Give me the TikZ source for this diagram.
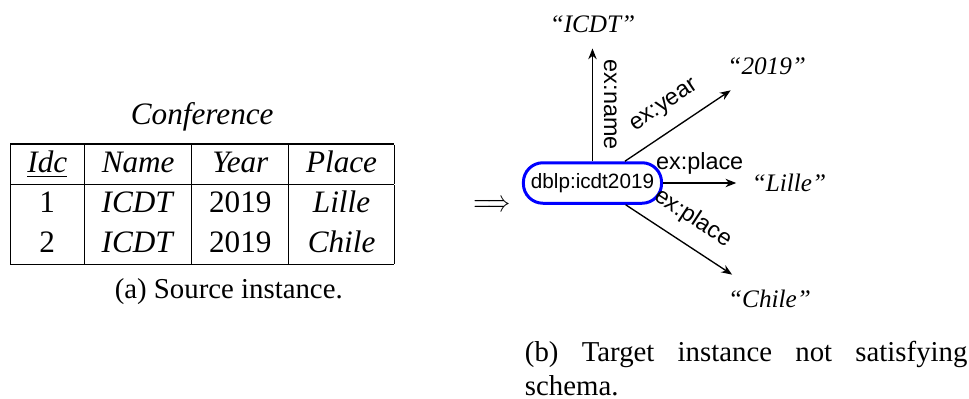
\documentclass[tikz,border=0pt]{standalone}
\usepackage{fontspec}
\setmainfont{Liberation Serif}
\setsansfont{Liberation Sans}
\usepackage{tikz}
\usetikzlibrary{positioning,arrows.meta}

\begin{document}
\begin{tikzpicture}[>={Stealth[length=3.6pt,width=2.8pt]},
  iri/.style={draw=blue, line width=1pt, rounded corners=6.5pt, inner xsep=2.5pt,
    minimum height=13.5pt, font=\fontsize{6.9}{8}\sffamily},
  lit/.style={inner sep=5pt, font=\fontsize{8.4}{10}\selectfont\itshape},
  prop/.style={inner sep=2.6pt, font=\fontsize{7.8}{9}\sffamily},
  every path/.style={line width=0.45pt}
]
\useasboundingbox (0,0) rectangle (11.352,4.674);
% source table
\node[anchor=north, inner sep=0pt, font=\fontsize{10.4}{12.5}\selectfont] (tab) at (2.369,3.003) {%
  \setlength{\tabcolsep}{5.75pt}\renewcommand{\arraystretch}{1.05}%
  \begin{tabular}{|c|c|c|c|}
    \hline
    \underline{\textit{Idc}} & \textit{Name} & \textit{Year} & \textit{Place}\\
    \hline
    1 & \textit{ICDT} & 2019 & \textit{Lille}\\
    2 & \textit{ICDT} & 2019 & \textit{Chile}\\
    \hline
  \end{tabular}};
\node[above=3.6pt of tab, inner sep=0pt, font=\fontsize{10.4}{12.5}\selectfont\itshape] (conf) {Conference};
\node[anchor=base, inner sep=0pt, font=\fontsize{9.6}{11.1}\selectfont] (capa) at (2.680,1.180) {(a) Source instance.};

\node[inner sep=0pt] (impl) at (5.764,2.261) {\scalebox{0.77}[1]{$\Longrightarrow$}};

% target graph
\node[iri] (dblp) at (6.941,2.530) {dblp:icdt2019};
\node[lit, above=37.6pt of dblp] (icdt) {``ICDT''};
\node[lit] (year) at (8.982,3.899) {``2019''};
\node[lit, right=24.4pt of dblp] (lille) {``Lille''};
\node[lit] (chile) at (9.015,1.169) {``Chile''};

\draw[->] (dblp) -- node[prop, midway, xshift=1pt, anchor=south, rotate=-90] {ex:name} (icdt);
\draw[->] (dblp) -- node[prop, midway, sloped, above=2pt] {ex:year} (year);
\draw[->] (dblp) -- node[prop, midway, above] {ex:place} (lille);
\draw[->] (dblp) -- node[prop, midway, sloped, above=2pt] {ex:place} (chile);

\node[anchor=north west, inner sep=0pt, text width=147.5pt, align=justify,
  font=\fontsize{9.6}{11.1}\selectfont] (capb) at (6.142,0.679)
  {(b) Target instance not satisfying schema.};
\end{tikzpicture}
\end{document}
